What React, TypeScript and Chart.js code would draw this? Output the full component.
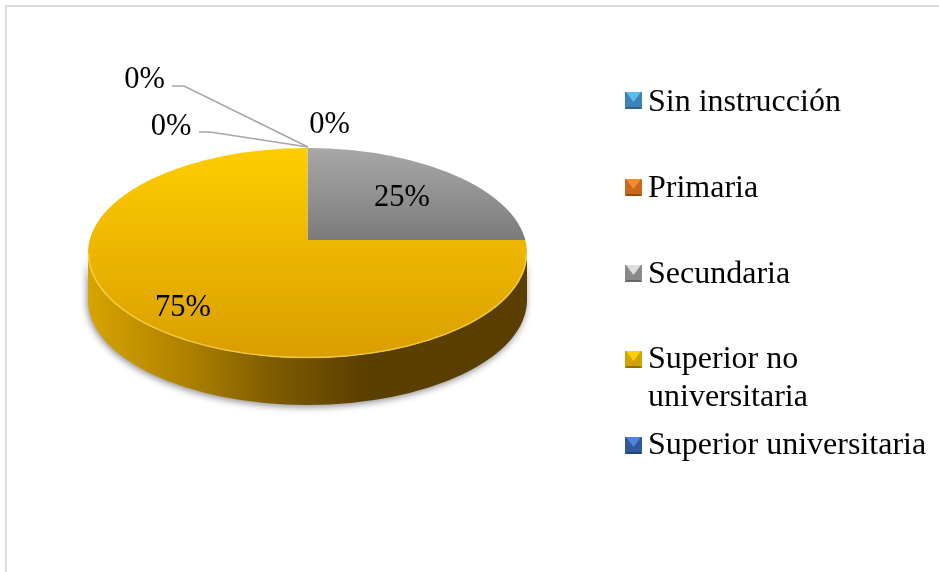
import React, { useEffect, useRef } from "react";
import { Chart, registerables } from "chart.js";

Chart.register(...registerables);

const categories = ["Sin instrucción", "Primaria", "Secundaria", "Superior no universitaria", "Superior universitaria"];
const values = [0, 0, 25, 75, 0];
const baseColors = ["#5b9bd5", "#ed7d31", "#a5a5a5", "#ffc000", "#4472c4"];
const legendLines = [["Sin instrucción"], ["Primaria"], ["Secundaria"], ["Superior no", "universitaria"], ["Superior universitaria"]];

const SERIF = '"Liberation Serif", "Times New Roman", serif';
const FONT = `32px ${SERIF}`;
const LABEL_FONT = `30.5px ${SERIF}`;
const APEX_Y = 240;
const RIM_CY = 253;
const RIM_RY = 105;
const DEPTH = 47;
const COVER_RY = 140;
const COVER_RX_SCALE = 1.1;

const labelPos = [
  { x: 171, y: 135 },
  { x: 144.5, y: 88 },
  { x: 402, y: 206 },
  { x: 183, y: 316 },
  { x: 329.5, y: 133 },
];
const leaders: Record<number, number[][]> = {
  0: [[172, 86], [184, 86], [308, 147]],
  1: [[199, 132], [210, 132], [308, 147]],
};
const legendGeom = [
  { box: 92, base: [111] },
  { box: 179, base: [197] },
  { box: 265, base: [283] },
  { box: 351, base: [368, 406] },
  { box: 437, base: [454] },
];
const bevels = [
  { top: "#5cbcf0", side: "#3d82ba", bottom: "#2c618e" },
  { top: "#f88c28", side: "#c9681f", bottom: "#8f4d18" },
  { top: "#dedede", side: "#8a8a8a", bottom: "#666666" },
  { top: "#ffd000", side: "#d2a300", bottom: "#8f6e00" },
  { top: "#4d84dc", side: "#30599f", bottom: "#234279" },
];

function sliceFill(context: any) {
  const chart = context.chart;
  const i = context.dataIndex;
  const a = chart.chartArea;
  if (!a) return baseColors[i];
  const cy = (a.top + a.bottom) / 2;
  const R = (a.right - a.left) / 2;
  const g = chart.ctx.createLinearGradient(0, cy - R, 0, cy + R);
  if (i === 2) {
    g.addColorStop(0.171, "#a8a8a8");
    g.addColorStop(0.5, "#7b7b7b");
  } else if (i === 3) {
    g.addColorStop(0.171, "#ffcd00");
    g.addColorStop(0.5, "#efb800");
    g.addColorStop(0.921, "#d99e00");
  } else {
    g.addColorStop(0, baseColors[i]);
    g.addColorStop(1, baseColors[i]);
  }
  return g;
}

const pie3d = {
  id: "pie3d",
  beforeDraw(chart: any) {
    const c = chart.ctx;
    c.save();
    c.fillStyle = "#ffffff";
    c.fillRect(0, 0, chart.width, chart.height);
    c.fillStyle = "#dcdcdc";
    c.fillRect(5, 5, chart.width - 5, 2);
    c.fillRect(5, 5, 2, chart.height - 5);
    c.restore();
  },
  beforeDatasetDraw(chart: any, args: any) {
    const c = chart.ctx;
    const arcs = args.meta.data;
    const { x: cx, y: cy, outerRadius: R } = arcs[0];

    // extruded side
    const sidePath = () => {
      c.beginPath();
      c.ellipse(cx, RIM_CY, R, RIM_RY, 0, Math.PI, 0, true);
      c.lineTo(cx + R, RIM_CY + DEPTH);
      c.ellipse(cx, RIM_CY + DEPTH, R, RIM_RY, 0, 0, Math.PI, false);
      c.closePath();
    };
    const side = c.createLinearGradient(cx - R, 0, cx + R, 0);
    side.addColorStop(0, "#d8a400");
    side.addColorStop(0.23, "#ad8000");
    side.addColorStop(0.42, "#7f5c00");
    side.addColorStop(0.63, "#5a3f00");
    side.addColorStop(1, "#5a3f00");
    c.save();
    c.shadowColor = "rgba(0,0,0,0.45)";
    c.shadowBlur = 7;
    c.shadowOffsetX = -1;
    c.shadowOffsetY = 2;
    c.fillStyle = side;
    sidePath();
    c.fill();
    c.restore();

    // top face: slices stretched over the rim ellipse, whose centre lies below the apex
    c.save();
    c.beginPath();
    c.ellipse(cx, RIM_CY, R, RIM_RY, 0, 0, Math.PI * 2);
    c.clip();
    c.translate(cx, APEX_Y);
    c.scale(COVER_RX_SCALE, COVER_RY / R);
    c.translate(-cx, -cy);
    arcs.forEach((a: any) => a.draw(c));
    c.restore();

    // bevel rim along the front edge
    c.save();
    c.beginPath();
    c.ellipse(cx, RIM_CY, R - 0.5, RIM_RY - 0.5, 0, Math.PI, 0, true);
    c.strokeStyle = "rgba(255,222,90,0.6)";
    c.lineWidth = 1.6;
    c.stroke();
    c.restore();
    return false;
  },
  afterDatasetsDraw(chart: any) {
    const c = chart.ctx;
    const total = values.reduce((s, v) => s + v, 0);
    c.save();
    c.strokeStyle = "#a6a6a6";
    c.lineWidth = 1.4;
    Object.values(leaders).forEach((pts) => {
      c.beginPath();
      pts.forEach((p, i) => (i ? c.lineTo(p[0], p[1]) : c.moveTo(p[0], p[1])));
      c.stroke();
    });
    c.fillStyle = "#000000";
    c.font = LABEL_FONT;
    c.textAlign = "center";
    c.textBaseline = "alphabetic";
    values.forEach((v, i) => {
      c.fillText(`${Math.round((v / total) * 100)}%`, labelPos[i].x, labelPos[i].y);
    });

    // legend
    c.font = FONT;
    c.textAlign = "left";
    legendLines.forEach((lines, i) => {
      const g = legendGeom[i];
      const b = bevels[i];
      const x0 = 625;
      const s = 17;
      const y0 = g.box;
      const mx = x0 + s / 2;
      const tri = (col: string, pts: number[][]) => {
        c.fillStyle = col;
        c.beginPath();
        pts.forEach((p, k) => (k ? c.lineTo(p[0], p[1]) : c.moveTo(p[0], p[1])));
        c.closePath();
        c.fill();
      };
      tri(b.side, [[x0, y0], [x0, y0 + s], [x0 + s, y0 + s], [x0 + s, y0]]);
      tri(b.top, [[x0 + 1, y0], [x0 + s - 1, y0], [mx, y0 + 10]]);
      tri(b.bottom, [[x0, y0 + s], [x0 + s, y0 + s], [x0 + s - 2, y0 + s - 2], [x0 + 2, y0 + s - 2]]);
      c.fillStyle = "#000000";
      lines.forEach((t, k) => c.fillText(t, 648, g.base[k]));
    });
    c.restore();
  },
};

export default function App() {
  const ref = useRef<HTMLCanvasElement>(null);
  useEffect(() => {
    if (!ref.current) return;
    const chart = new Chart(ref.current, {
      type: "pie",
      data: {
        labels: categories,
        datasets: [{ data: values, backgroundColor: sliceFill as any, borderWidth: 0 }],
      },
      options: {
        animation: false,
        responsive: false,
        layout: { padding: { left: 88, right: 412, top: 0, bottom: 0 } },
        plugins: { legend: { display: false }, tooltip: { enabled: false } },
      },
      plugins: [pie3d as any],
    });
    return () => chart.destroy();
  }, []);
  return (
    <canvas
      ref={ref}
      width={939}
      height={572}
      style={{ position: "absolute", left: 0, top: 0, width: 939, height: 572, display: "block" }}
    />
  );
}
